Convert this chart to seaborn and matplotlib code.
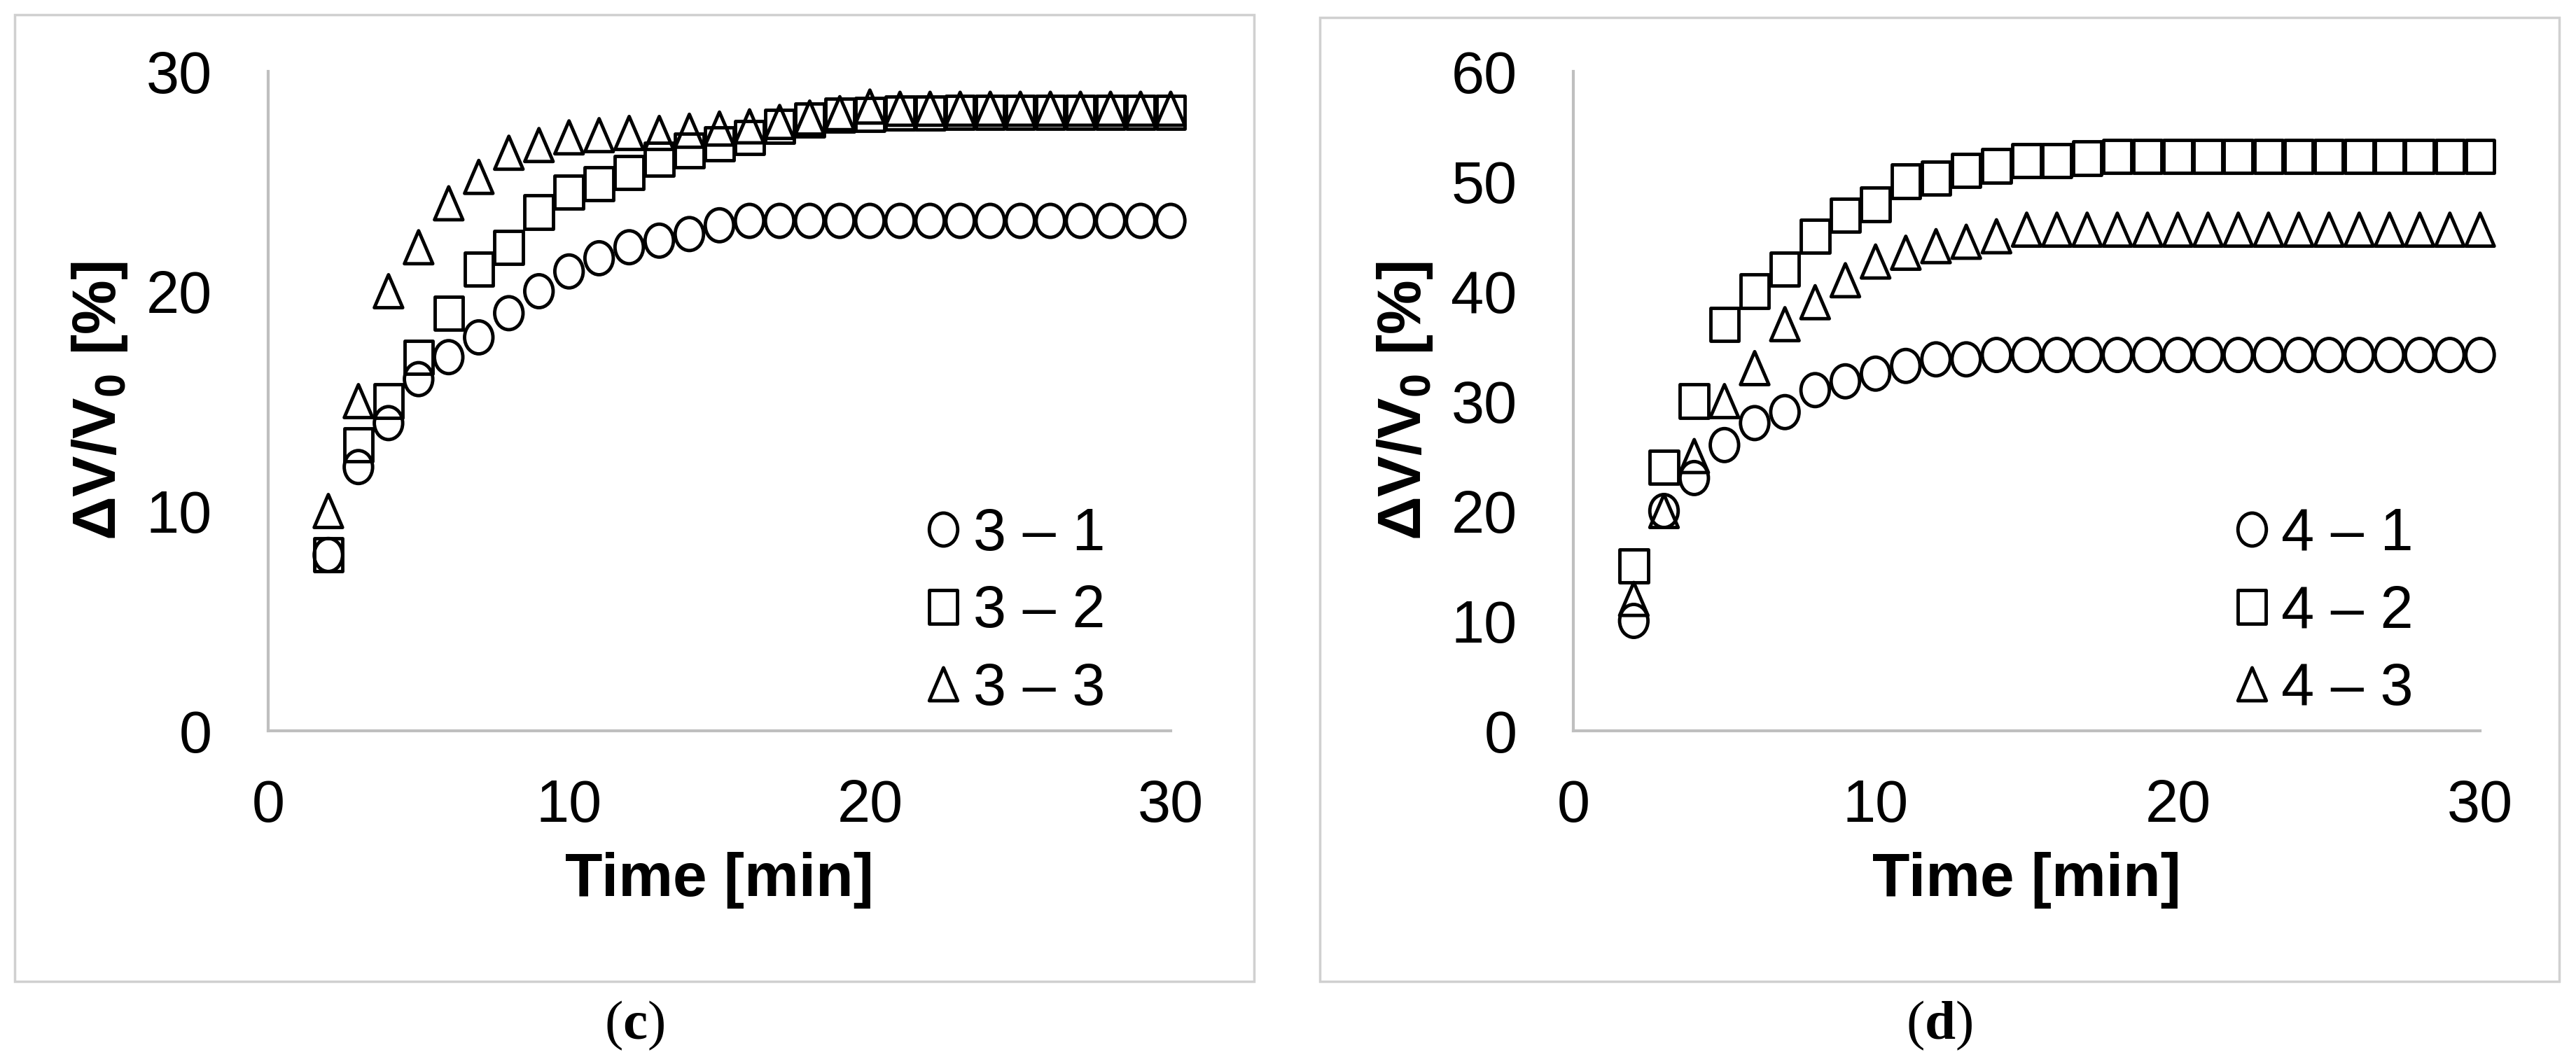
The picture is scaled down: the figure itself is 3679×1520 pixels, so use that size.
import numpy as np
import pandas as pd
import seaborn as sns
from matplotlib import pyplot as plt
from matplotlib.path import Path
from matplotlib.patches import Rectangle

# Time [min], same for all series
time = [2, 3, 4, 5, 6, 7, 8, 9, 10, 11, 12, 13, 14, 15, 16, 17, 18, 19, 20,
        21, 22, 23, 24, 25, 26, 27, 28, 29, 30]

# Panel (c): dV/V0 [%]
c_labels = ["3 – 1", "3 – 2", "3 – 3"]
c_31 = [8, 12, 14, 16, 17, 17.9, 19, 20, 20.9, 21.5, 22, 22.3, 22.6, 23, 23.2,
        23.2, 23.2, 23.2, 23.2, 23.2, 23.2, 23.2, 23.2, 23.2, 23.2, 23.2, 23.2, 23.2, 23.2]
c_32 = [8, 13, 15, 17, 19, 21, 22, 23.6, 24.5, 24.9, 25.4, 26, 26.4, 26.7, 27,
        27.5, 27.8, 28, 28.05, 28.1, 28.1, 28.15, 28.15, 28.15, 28.15, 28.15, 28.15, 28.15, 28.15]
c_33 = [10, 15, 20, 22, 24, 25.2, 26.3, 26.65, 27, 27.1, 27.2, 27.2, 27.3, 27.4, 27.5,
        27.7, 27.9, 28.1, 28.4, 28.3, 28.3, 28.3, 28.3, 28.3, 28.3, 28.3, 28.3, 28.3, 28.3]

# Panel (d): dV/V0 [%]
d_labels = ["4 – 1", "4 – 2", "4 – 3"]
d_41 = [10, 20, 23, 26, 28, 29, 31, 31.8, 32.5, 33.2, 33.8, 33.8, 34.2, 34.2, 34.2,
        34.2, 34.2, 34.2, 34.2, 34.2, 34.2, 34.2, 34.2, 34.2, 34.2, 34.2, 34.2, 34.2, 34.2]
d_42 = [15, 24, 30, 37, 40, 42, 45, 46.9, 47.9, 50, 50.3, 51, 51.4, 51.9, 51.9,
        52.1, 52.25, 52.25, 52.25, 52.25, 52.25, 52.25, 52.25, 52.25, 52.25, 52.25, 52.25, 52.25, 52.25]
d_43 = [12, 20, 25, 30, 33, 37, 39, 41, 42.7, 43.5, 44.1, 44.5, 45, 45.6, 45.6,
        45.6, 45.6, 45.6, 45.6, 45.6, 45.6, 45.6, 45.6, 45.6, 45.6, 45.6, 45.6, 45.6, 45.6]

sns.set_style("white")
plt.rcParams["font.family"] = ["Liberation Sans", "DejaVu Sans"]
plt.rcParams["text.color"] = "black"
plt.rcParams["axes.labelcolor"] = "black"
plt.rcParams["mathtext.fontset"] = "custom"
plt.rcParams["mathtext.rm"] = "Liberation Sans"
plt.rcParams["mathtext.bf"] = "Liberation Sans:bold"
plt.rcParams["mathtext.sf"] = "Liberation Serif:bold"

# hollow markers, a bit taller than wide like in the source figure
sx = 0.86
circ = Path.unit_circle()
m_circle = Path(circ.vertices * [sx, 1.0], circ.codes)
m_square = Path(np.array([[-1, -1], [1, -1], [1, 1], [-1, 1], [-1, -1]]) * [sx, 1.0], closed=True)
m_triangle = Path(np.array([[0, 1], [-1, -1], [1, -1], [0, 1]]) * [sx, 1.0], closed=True)

W, H = 3679, 1520
fig = plt.figure(figsize=(W / 100, H / 100), dpi=100)

panels = [
    dict(left=383, right=1672, labels=c_labels, series=[c_31, c_32, c_33],
         ymax=30, yticks=[0, 10, 20, 30], box=(21, 21, 1791, 1402), tag="c"),
    dict(left=2247, right=3542, labels=d_labels, series=[d_41, d_42, d_43],
         ymax=60, yticks=[0, 10, 20, 30, 40, 50, 60], box=(1885, 25, 3655, 1402), tag="d"),
]
top, bottom = 102, 1044
grey = "#bfbfbf"
font = 61

for p in panels:
    ax = fig.add_axes([p["left"] / W, 1 - bottom / H, (p["right"] - p["left"]) / W, (bottom - top) / H])
    df = pd.DataFrame({
        "time": time * 3,
        "dv": p["series"][0] + p["series"][1] + p["series"][2],
        "sample": [lab for lab in p["labels"] for _ in time],
    })
    markers = dict(zip(p["labels"], [m_circle, m_square, m_triangle]))
    sns.scatterplot(data=df, x="time", y="dv", style="sample", markers=markers,
                    s=1150, facecolors="none", edgecolor="black", linewidth=3.5,
                    ax=ax, legend="full")
    for coll in ax.collections:
        coll.set_clip_on(False)

    ax.set_xlim(0, 30)
    ax.set_ylim(0, p["ymax"])
    ax.set_xticks([0, 10, 20, 30])
    ax.set_yticks(p["yticks"])
    sns.despine(ax=ax)
    for side in ["left", "bottom"]:
        ax.spines[side].set_color(grey)
        ax.spines[side].set_linewidth(3)
    ax.tick_params(direction="in", length=19, width=3, color=grey,
                   labelsize=font, labelcolor="black")
    ax.tick_params(axis="x", pad=49)
    ax.tick_params(axis="y", pad=58)
    ax.set_xlabel("Time [min]", fontsize=63, fontweight="bold", labelpad=18)
    ax.set_ylabel(r"ΔV/V$_\mathbf{0}$ [%]", fontsize=63, fontweight="bold", labelpad=17)

    # legend: reuse seaborn's handles, restyled
    old = ax.get_legend()
    handles = old.legend_handles
    labels = [t.get_text() for t in old.get_texts()]
    for h in handles:
        h.set_markerfacecolor("none")
        h.set_markeredgecolor("black")
        h.set_markeredgewidth(3.5)
    ax.legend(handles, labels, loc="upper left", bbox_to_anchor=(0.7285, 0.34),
              frameon=False, fontsize=font, handlelength=0.6, handletextpad=0.2,
              labelspacing=0.36, borderpad=0, borderaxespad=0)

    # panel frame and tag
    x0, y0, x1, y1 = p["box"]
    fig.add_artist(Rectangle((x0 / W, 1 - y1 / H), (x1 - x0) / W, (y1 - y0) / H,
                             transform=fig.transFigure, fill=False,
                             edgecolor="#d0d0d0", linewidth=2.5))
    fig.text((x0 + x1) / 2 / W, 1 - 1465 / H, "($\\mathsf{" + p["tag"] + "}$)",
             ha="center", va="center", fontsize=57, family="Liberation Serif")

fig.savefig("out.png", dpi=100)
